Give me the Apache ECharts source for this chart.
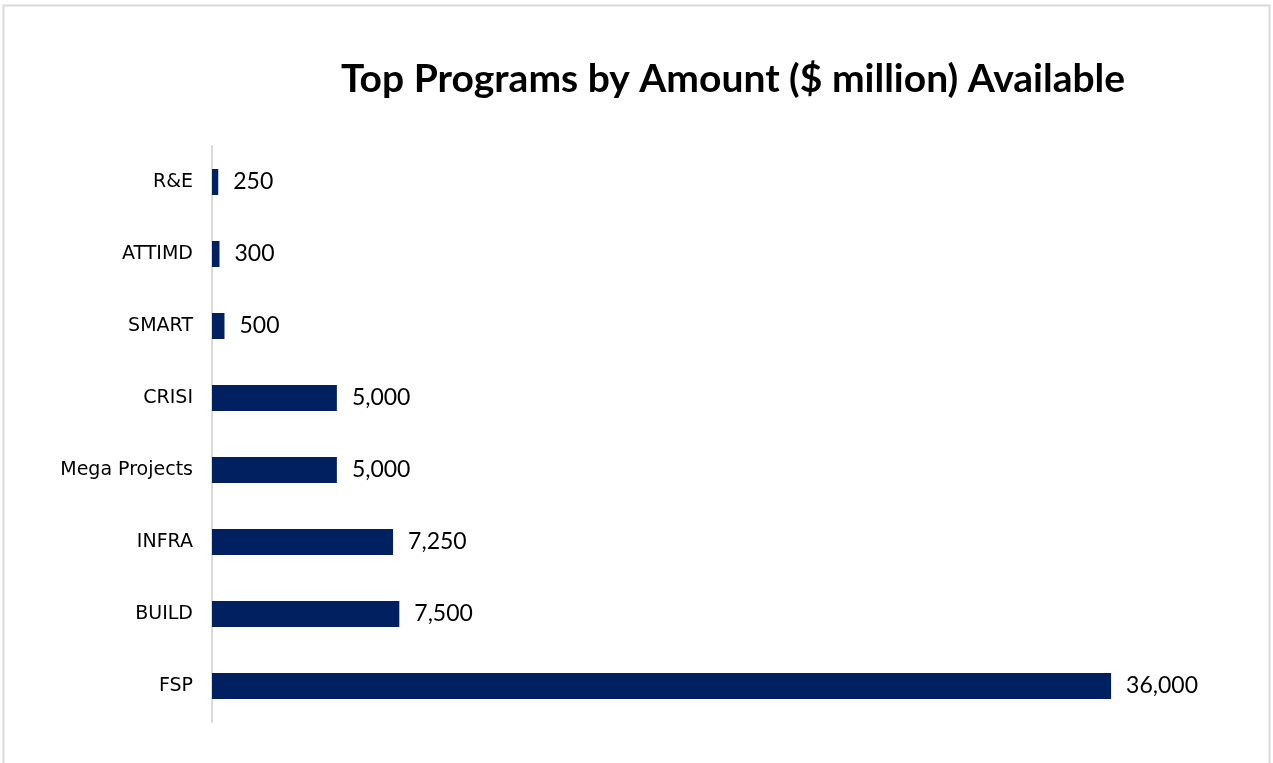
<!DOCTYPE html>
<html><head><meta charset="utf-8">
<script src="https://cdn.jsdelivr.net/npm/echarts@6/dist/echarts.min.js"></script>
<style>html,body{margin:0;padding:0;background:#fff}#c{width:1273px;height:763px}</style>
</head><body><div id="c"></div>
<script>
const categories = ["FSP", "BUILD", "INFRA", "Mega Projects", "CRISI", "SMART", "ATTIMD", "R&E"];
const amounts = [36000, 7500, 7250, 5000, 5000, 500, 300, 250];
const titleText = "Top Programs by Amount ($ million) Available";

const chart = echarts.init(document.getElementById('c'));
chart.setOption({
  backgroundColor: '#fff',
  animation: false,
  title: {
    text: titleText, left: 728, top: 55, textAlign: 'center',
    textStyle: {fontFamily: 'Lato', fontWeight: 'bold', fontSize: 39, color: '#000'}
  },
  graphic: [{
    type: 'rect', shape: {x: 3.5, y: 5.5, width: 1266, height: 770},
    style: {fill: 'none', stroke: '#d9d9d9', lineWidth: 2}, silent: true
  }],
  grid: {left: 212, top: 146, width: 999, height: 576, containLabel: false},
  xAxis: {type: 'value', min: 0, max: 40000, show: false},
  yAxis: {
    type: 'category', data: categories,
    axisLine: {show: true, lineStyle: {color: '#d9d9d9', width: 2}},
    axisTick: {show: false},
    axisLabel: {fontFamily: 'DejaVu Sans', fontSize: 19, color: '#000', margin: 19}
  },
  series: [{
    type: 'bar', data: amounts, barWidth: 26,
    itemStyle: {color: '#00205f'},
    label: {
      show: true, position: 'right', distance: 15,
      fontFamily: 'Lato', fontSize: 23, color: '#000',
      formatter: p => p.value.toLocaleString('en-US')
    }
  }]
});
</script></body></html>
